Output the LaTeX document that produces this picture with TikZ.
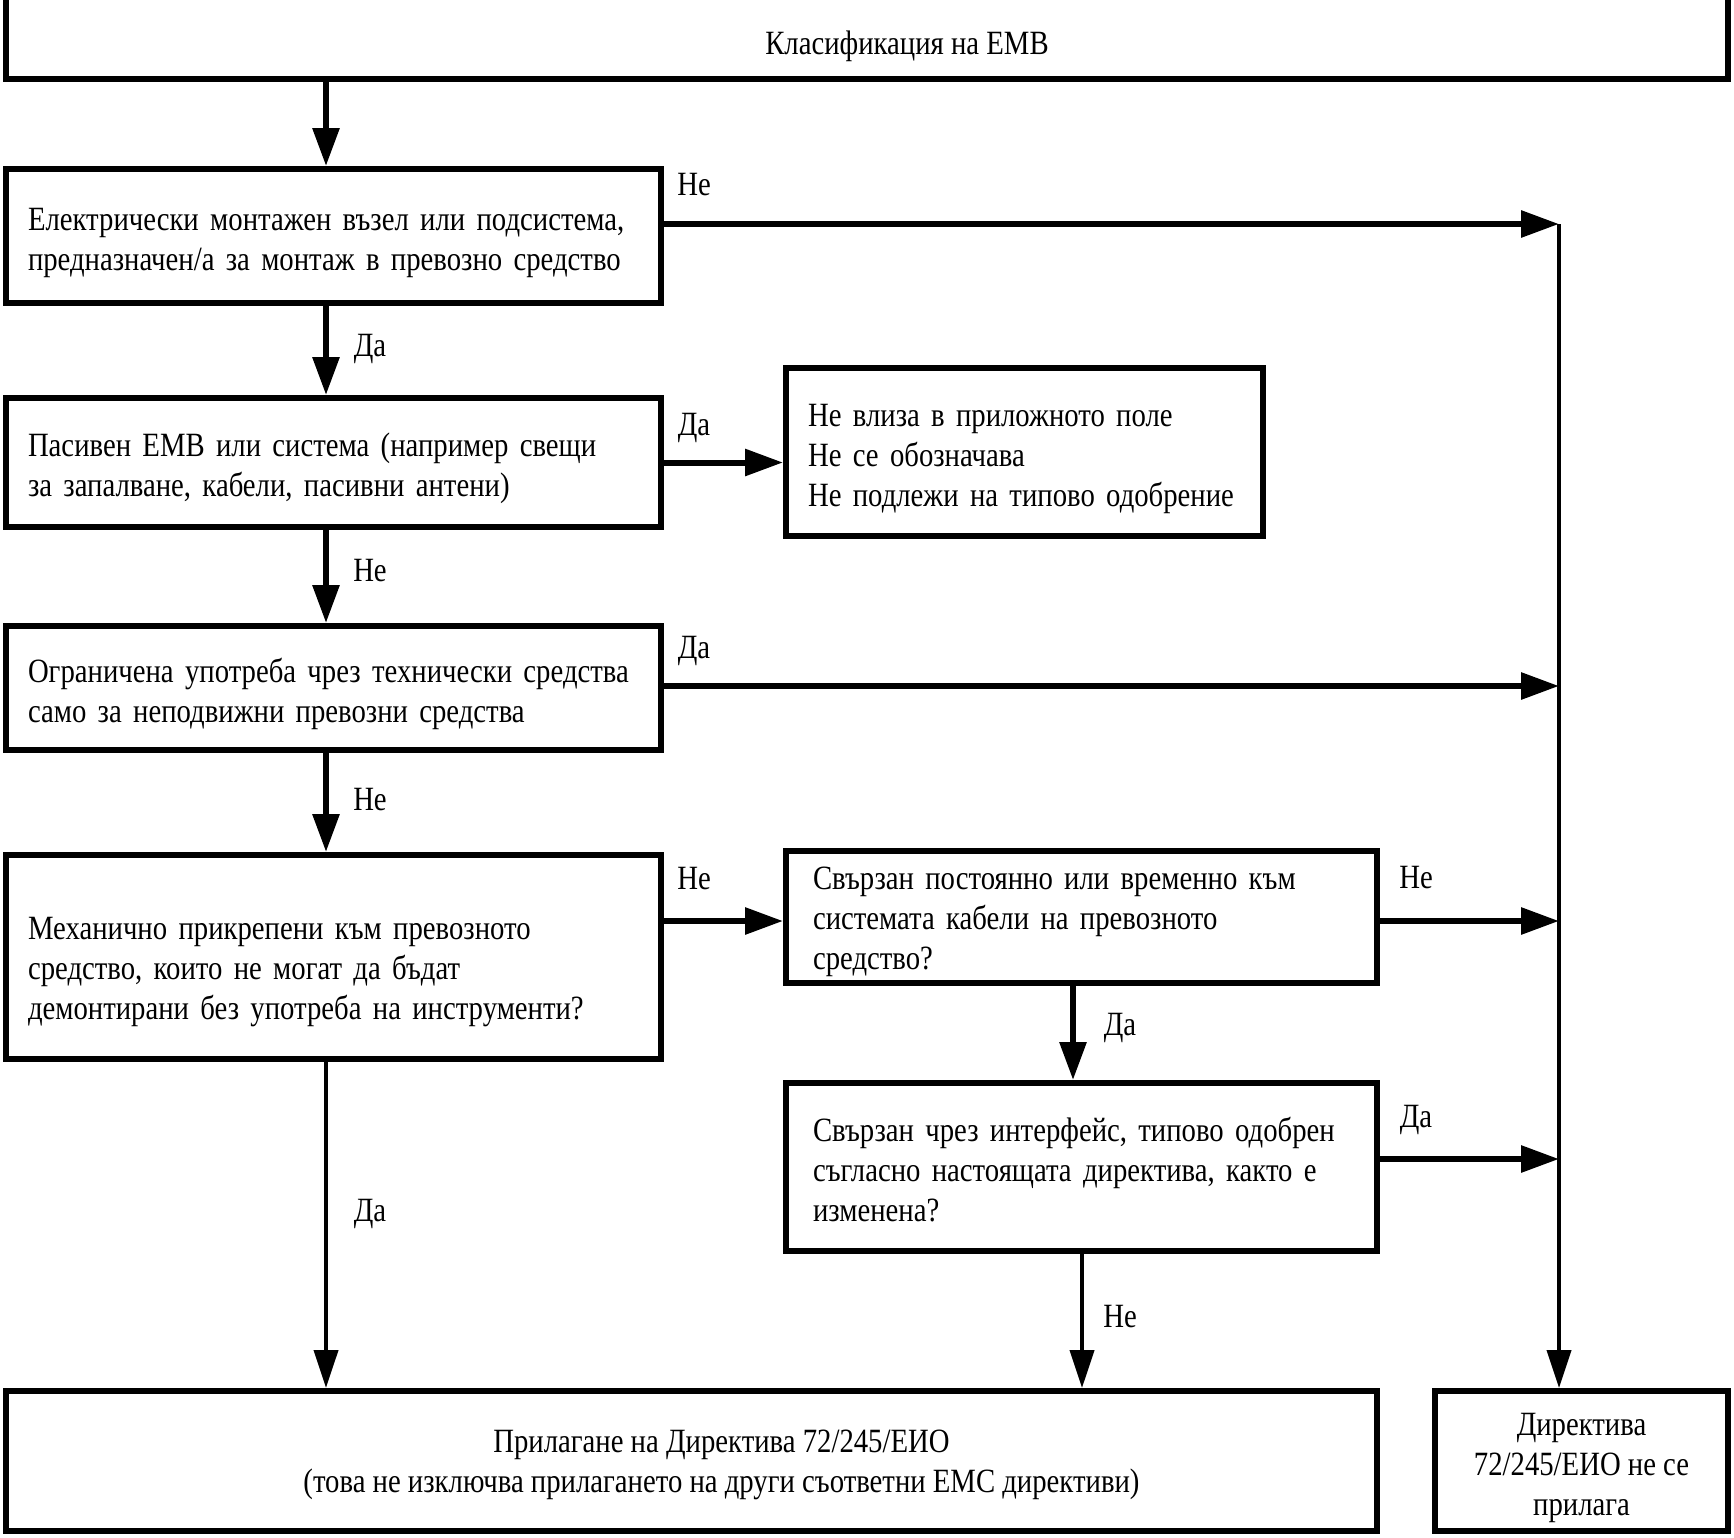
\documentclass[tikz,border=0pt]{standalone}
\usepackage{fontspec}
\setmainfont{Liberation Serif}[FakeStretch=0.845]
\usetikzlibrary{arrows.meta}
\newcommand\tpad[1]{\rule{0pt}{#1}}
\begin{document}
\begin{tikzpicture}[x=0.5pt,y=-0.5pt,
  box/.style={draw, line width=3pt, inner xsep=11pt, inner ysep=0pt, align=left},
  arr/.style={line width=3pt, -{Triangle[length=19pt,width=13pt]}},
  tarr/.style={line width=2pt, -{Triangle[length=19pt,width=12pt]}},
  lbl/.style={inner sep=0pt},
  every node/.style={font=\fontsize{17pt}{20pt}\selectfont}]
\useasboundingbox[fill=white] (0,0) rectangle (1734,1537);

% boxes
\node[box, minimum width=861pt, minimum height=49.5pt,
  label={[xshift=20pt,yshift=-8.5pt]center:Класификация на ЕМВ}] (title) at (867,29.5) {};
\node[box, minimum width=327.5pt, minimum height=67pt, text width=305.5pt] (b1) at (333.5,236)
  {\tpad{18pt}Електрически монтажен възел или подсистема,\\предназначен/а за монтаж в превозно средство};
\node[box, minimum width=327.5pt, minimum height=64.5pt, text width=305.5pt] (b2) at (333.5,462.5)
  {\tpad{18pt}Пасивен ЕМВ или система (например свещи\\за запалване, кабели, пасивни антени)};
\node[box, minimum width=238.5pt, minimum height=84pt, text width=216.5pt] (b3) at (1024.5,452)
  {\tpad{18pt}Не влиза в приложното поле\\Не се обозначава\\Не подлежи на типово одобрение};
\node[box, minimum width=327.5pt, minimum height=62pt, text width=305.5pt] (b4) at (333.5,688)
  {\tpad{18pt}Ограничена употреба чрез технически средства\\само за неподвижни превозни средства};
\node[box, minimum width=327.5pt, minimum height=102pt, text width=305.5pt] (b5) at (333.5,957)
  {\tpad{26pt}Механично прикрепени към превозното\\средство, които не могат да бъдат\\демонтирани без употреба на инструменти?};
\node[box, minimum width=295.5pt, minimum height=66pt, inner xsep=13.5pt, text width=268.5pt] (b6) at (1081.5,917)
  {\tpad{16pt}Свързан постоянно или временно към\\системата кабели на превозното\\средство?};
\node[box, minimum width=295.5pt, minimum height=84pt, inner xsep=13.5pt, text width=268.5pt] (b7) at (1081.5,1167)
  {\tpad{15pt}Свързан чрез интерфейс, типово одобрен\\съгласно настоящата директива, както е\\изменена?};
\node[box, minimum width=685.5pt, minimum height=70pt,
  label={[xshift=15pt,yshift=-2pt,align=center]center:Прилагане на Директива 72/245/ЕИО\\(това не изключва прилагането на други съответни ЕМС директиви)}] (b8) at (691.5,1461) {};
\node[box, minimum width=146.5pt, minimum height=70pt, align=center, inner xsep=4pt] (b9) at (1581.5,1461)
  {\tpad{18pt}Директива\\72/245/ЕИО не се\\прилага};

% columns and junctions
\coordinate (colA) at (326,0);
\coordinate (top) at (1559,224);
\coordinate (j2) at (1559,686);
\coordinate (j3) at (1559,921);
\coordinate (j4) at (1559,1159);
\coordinate (colB) at (1073,0);
\coordinate (colC) at (1082,0);

% main column
\draw[arr] (title.south -| colA) -- (b1.north -| colA);
\draw[arr] (b1.south -| colA) -- (b2.north -| colA);
\draw[arr] (b2.south -| colA) -- (b4.north -| colA);
\draw[arr] (b4.south -| colA) -- (b5.north -| colA);
\draw[tarr] (b5.south -| colA) -- (b8.north -| colA);

% right side
\draw[arr] (b1.east |- top) -- (top);
\draw[arr] (b2.east) -- (b3.west |- b2.east);
\draw[arr] (b4.east |- j2) -- (j2);
\draw[arr] (b5.east |- j3) -- (b6.west |- j3);
\draw[arr] (b6.east |- j3) -- (j3);
\draw[arr] (b6.south -| colB) -- (b7.north -| colB);
\draw[arr] (b7.east |- j4) -- (j4);
\draw[tarr] (b7.south -| colC) -- (b8.north -| colC);
\draw[tarr] (top) -- (b9.north -| top);

% labels
\node[lbl] (l1) at (694,185) {Не};
\node[lbl] (l2) at (370,349) {Да};
\node[lbl] (l3) at (694,428) {Да};
\node[lbl] (l4) at (370,571) {Не};
\node[lbl] (l5) at (694,651) {Да};
\node[lbl] (l6) at (370,800) {Не};
\node[lbl] (l7) at (694,879) {Не};
\node[lbl] (l8) at (1416,878) {Не};
\node[lbl] (l9) at (1120,1028) {Да};
\node[lbl] (l10) at (1416,1120) {Да};
\node[lbl] (l11) at (1120,1317) {Не};
\node[lbl] (l12) at (370,1214) {Да};
\end{tikzpicture}
\end{document}
